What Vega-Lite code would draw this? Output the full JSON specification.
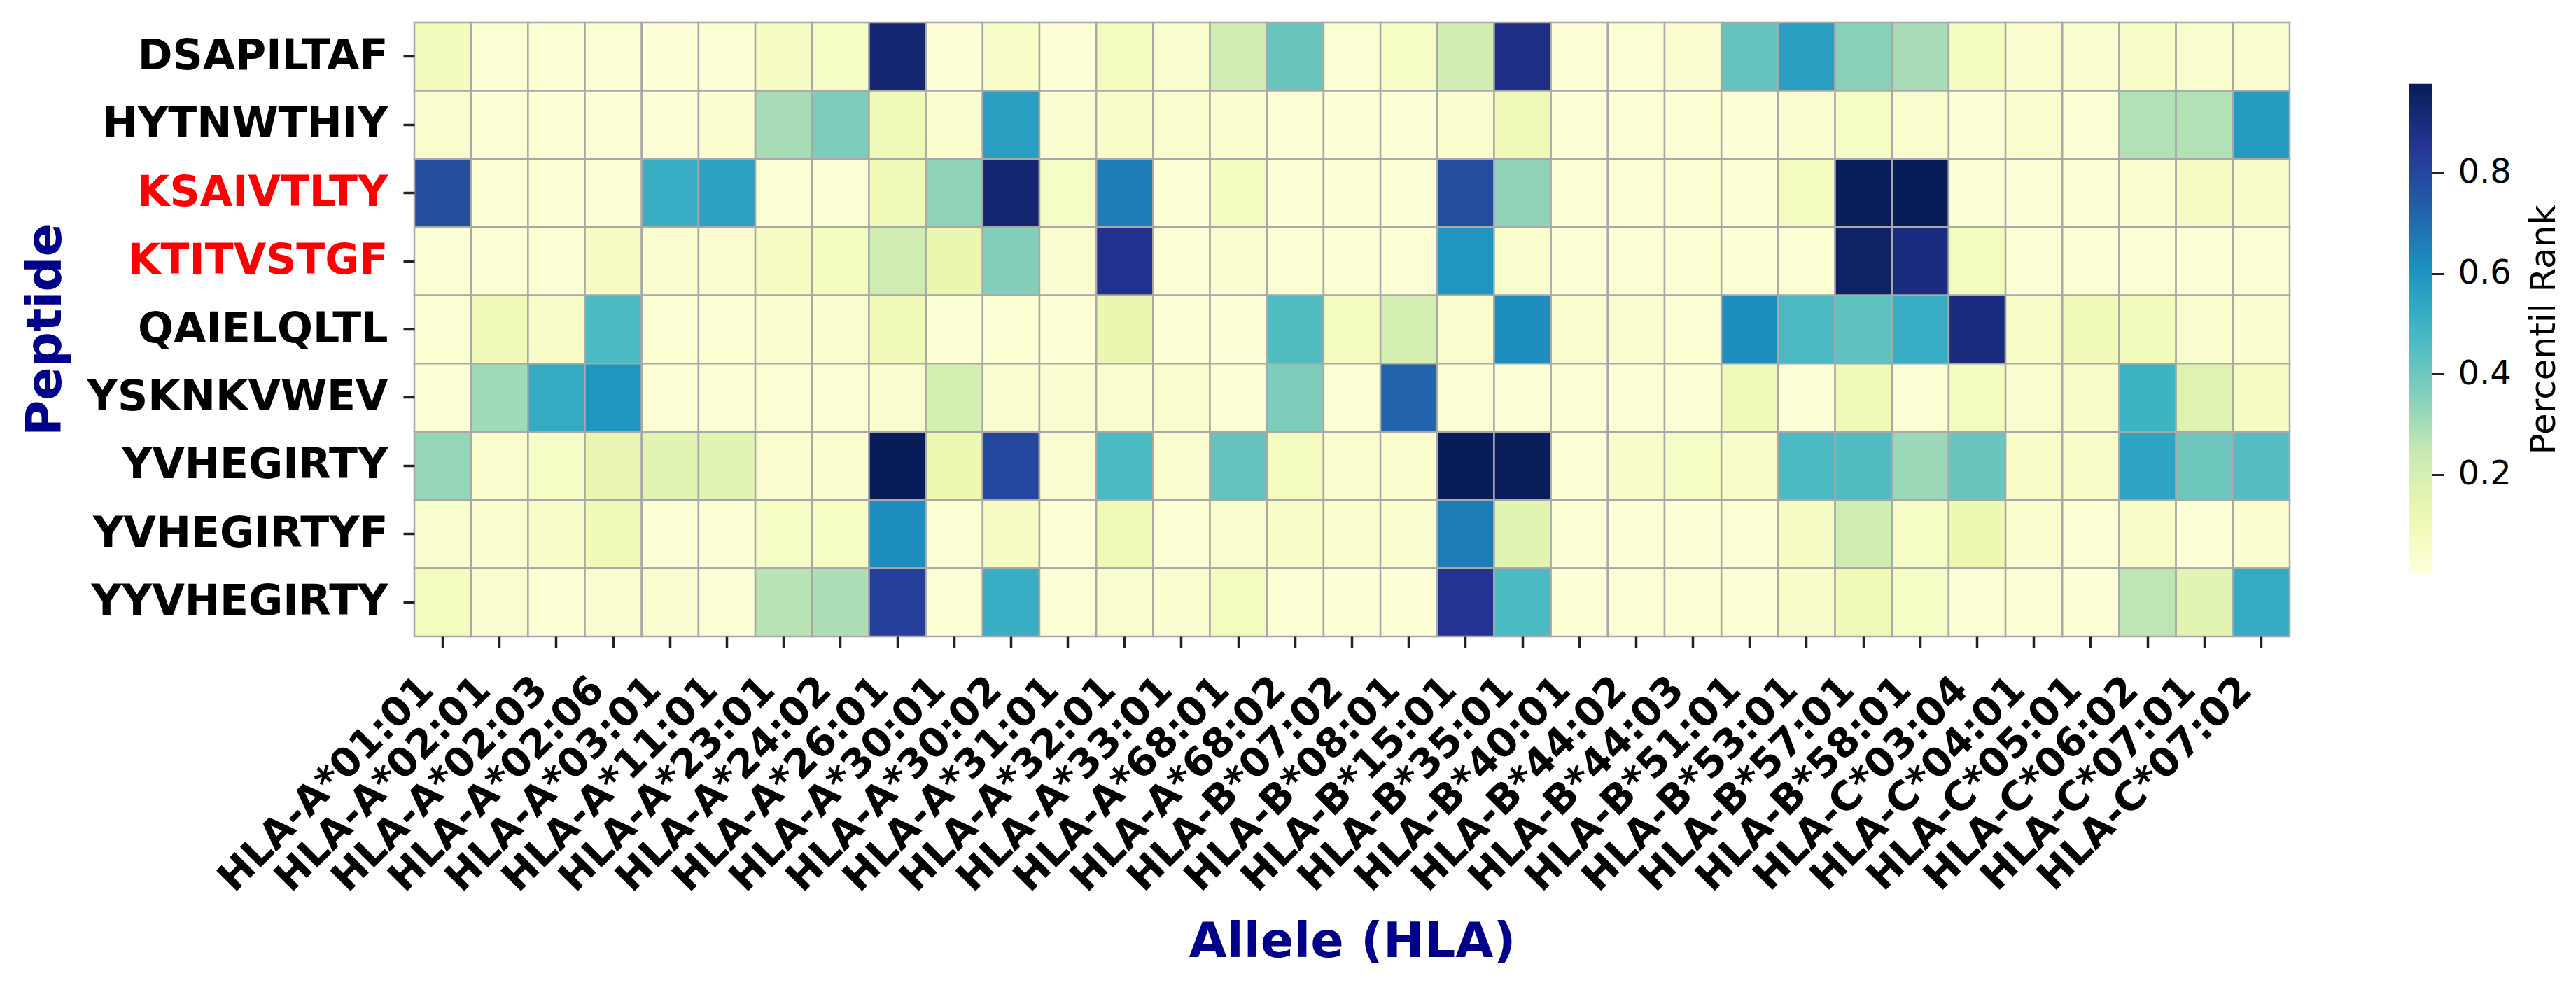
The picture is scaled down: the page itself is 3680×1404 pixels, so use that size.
{
  "$schema": "https://vega.github.io/schema/vega-lite/v6.json",
  "background": "white",
  "padding": {"left": 30, "top": 30, "right": 60, "bottom": 60},
  "config": {"view": {"stroke": null}, "font": "DejaVu Sans"},
  "spacing": 169,
  "hconcat": [
    {
      "width": 2679,
      "height": 877,
      "data": {"values": [
{"peptide":"DSAPILTAF","allele":"HLA-A*01:01","rank":0.09},{"peptide":"DSAPILTAF","allele":"HLA-A*02:01","rank":0.02},{"peptide":"DSAPILTAF","allele":"HLA-A*02:03","rank":0.02},{"peptide":"DSAPILTAF","allele":"HLA-A*02:06","rank":0.02},{"peptide":"DSAPILTAF","allele":"HLA-A*03:01","rank":0.01},{"peptide":"DSAPILTAF","allele":"HLA-A*11:01","rank":0.02},{"peptide":"DSAPILTAF","allele":"HLA-A*23:01","rank":0.07},{"peptide":"DSAPILTAF","allele":"HLA-A*24:02","rank":0.06},{"peptide":"DSAPILTAF","allele":"HLA-A*26:01","rank":0.93},{"peptide":"DSAPILTAF","allele":"HLA-A*30:01","rank":0.01},{"peptide":"DSAPILTAF","allele":"HLA-A*30:02","rank":0.05},{"peptide":"DSAPILTAF","allele":"HLA-A*31:01","rank":0.01},{"peptide":"DSAPILTAF","allele":"HLA-A*32:01","rank":0.08},{"peptide":"DSAPILTAF","allele":"HLA-A*33:01","rank":0.04},{"peptide":"DSAPILTAF","allele":"HLA-A*68:01","rank":0.22},{"peptide":"DSAPILTAF","allele":"HLA-A*68:02","rank":0.41},{"peptide":"DSAPILTAF","allele":"HLA-B*07:02","rank":0.02},{"peptide":"DSAPILTAF","allele":"HLA-B*08:01","rank":0.06},{"peptide":"DSAPILTAF","allele":"HLA-B*15:01","rank":0.21},{"peptide":"DSAPILTAF","allele":"HLA-B*35:01","rank":0.88},{"peptide":"DSAPILTAF","allele":"HLA-B*40:01","rank":0.01},{"peptide":"DSAPILTAF","allele":"HLA-B*44:02","rank":0.02},{"peptide":"DSAPILTAF","allele":"HLA-B*44:03","rank":0.03},{"peptide":"DSAPILTAF","allele":"HLA-B*51:01","rank":0.42},{"peptide":"DSAPILTAF","allele":"HLA-B*53:01","rank":0.57},{"peptide":"DSAPILTAF","allele":"HLA-B*57:01","rank":0.35},{"peptide":"DSAPILTAF","allele":"HLA-B*58:01","rank":0.30},{"peptide":"DSAPILTAF","allele":"HLA-C*03:04","rank":0.08},{"peptide":"DSAPILTAF","allele":"HLA-C*04:01","rank":0.03},{"peptide":"DSAPILTAF","allele":"HLA-C*05:01","rank":0.04},{"peptide":"DSAPILTAF","allele":"HLA-C*06:02","rank":0.05},{"peptide":"DSAPILTAF","allele":"HLA-C*07:01","rank":0.04},{"peptide":"DSAPILTAF","allele":"HLA-C*07:02","rank":0.04},
{"peptide":"HYTNWTHIY","allele":"HLA-A*01:01","rank":0.04},{"peptide":"HYTNWTHIY","allele":"HLA-A*02:01","rank":0.02},{"peptide":"HYTNWTHIY","allele":"HLA-A*02:03","rank":0.02},{"peptide":"HYTNWTHIY","allele":"HLA-A*02:06","rank":0.02},{"peptide":"HYTNWTHIY","allele":"HLA-A*03:01","rank":0.02},{"peptide":"HYTNWTHIY","allele":"HLA-A*11:01","rank":0.03},{"peptide":"HYTNWTHIY","allele":"HLA-A*23:01","rank":0.30},{"peptide":"HYTNWTHIY","allele":"HLA-A*24:02","rank":0.37},{"peptide":"HYTNWTHIY","allele":"HLA-A*26:01","rank":0.10},{"peptide":"HYTNWTHIY","allele":"HLA-A*30:01","rank":0.03},{"peptide":"HYTNWTHIY","allele":"HLA-A*30:02","rank":0.57},{"peptide":"HYTNWTHIY","allele":"HLA-A*31:01","rank":0.03},{"peptide":"HYTNWTHIY","allele":"HLA-A*32:01","rank":0.05},{"peptide":"HYTNWTHIY","allele":"HLA-A*33:01","rank":0.04},{"peptide":"HYTNWTHIY","allele":"HLA-A*68:01","rank":0.03},{"peptide":"HYTNWTHIY","allele":"HLA-A*68:02","rank":0.01},{"peptide":"HYTNWTHIY","allele":"HLA-B*07:02","rank":0.01},{"peptide":"HYTNWTHIY","allele":"HLA-B*08:01","rank":0.01},{"peptide":"HYTNWTHIY","allele":"HLA-B*15:01","rank":0.03},{"peptide":"HYTNWTHIY","allele":"HLA-B*35:01","rank":0.10},{"peptide":"HYTNWTHIY","allele":"HLA-B*40:01","rank":0.01},{"peptide":"HYTNWTHIY","allele":"HLA-B*44:02","rank":0.02},{"peptide":"HYTNWTHIY","allele":"HLA-B*44:03","rank":0.02},{"peptide":"HYTNWTHIY","allele":"HLA-B*51:01","rank":0.01},{"peptide":"HYTNWTHIY","allele":"HLA-B*53:01","rank":0.03},{"peptide":"HYTNWTHIY","allele":"HLA-B*57:01","rank":0.06},{"peptide":"HYTNWTHIY","allele":"HLA-B*58:01","rank":0.04},{"peptide":"HYTNWTHIY","allele":"HLA-C*03:04","rank":0.01},{"peptide":"HYTNWTHIY","allele":"HLA-C*04:01","rank":0.04},{"peptide":"HYTNWTHIY","allele":"HLA-C*05:01","rank":0.01},{"peptide":"HYTNWTHIY","allele":"HLA-C*06:02","rank":0.28},{"peptide":"HYTNWTHIY","allele":"HLA-C*07:01","rank":0.28},{"peptide":"HYTNWTHIY","allele":"HLA-C*07:02","rank":0.58},
{"peptide":"KSAIVTLTY","allele":"HLA-A*01:01","rank":0.78},{"peptide":"KSAIVTLTY","allele":"HLA-A*02:01","rank":0.02},{"peptide":"KSAIVTLTY","allele":"HLA-A*02:03","rank":0.02},{"peptide":"KSAIVTLTY","allele":"HLA-A*02:06","rank":0.02},{"peptide":"KSAIVTLTY","allele":"HLA-A*03:01","rank":0.52},{"peptide":"KSAIVTLTY","allele":"HLA-A*11:01","rank":0.56},{"peptide":"KSAIVTLTY","allele":"HLA-A*23:01","rank":0.02},{"peptide":"KSAIVTLTY","allele":"HLA-A*24:02","rank":0.02},{"peptide":"KSAIVTLTY","allele":"HLA-A*26:01","rank":0.10},{"peptide":"KSAIVTLTY","allele":"HLA-A*30:01","rank":0.34},{"peptide":"KSAIVTLTY","allele":"HLA-A*30:02","rank":0.93},{"peptide":"KSAIVTLTY","allele":"HLA-A*31:01","rank":0.06},{"peptide":"KSAIVTLTY","allele":"HLA-A*32:01","rank":0.66},{"peptide":"KSAIVTLTY","allele":"HLA-A*33:01","rank":0.01},{"peptide":"KSAIVTLTY","allele":"HLA-A*68:01","rank":0.08},{"peptide":"KSAIVTLTY","allele":"HLA-A*68:02","rank":0.01},{"peptide":"KSAIVTLTY","allele":"HLA-B*07:02","rank":0.01},{"peptide":"KSAIVTLTY","allele":"HLA-B*08:01","rank":0.01},{"peptide":"KSAIVTLTY","allele":"HLA-B*15:01","rank":0.78},{"peptide":"KSAIVTLTY","allele":"HLA-B*35:01","rank":0.34},{"peptide":"KSAIVTLTY","allele":"HLA-B*40:01","rank":0.01},{"peptide":"KSAIVTLTY","allele":"HLA-B*44:02","rank":0.02},{"peptide":"KSAIVTLTY","allele":"HLA-B*44:03","rank":0.02},{"peptide":"KSAIVTLTY","allele":"HLA-B*51:01","rank":0.01},{"peptide":"KSAIVTLTY","allele":"HLA-B*53:01","rank":0.08},{"peptide":"KSAIVTLTY","allele":"HLA-B*57:01","rank":0.975},{"peptide":"KSAIVTLTY","allele":"HLA-B*58:01","rank":0.977},{"peptide":"KSAIVTLTY","allele":"HLA-C*03:04","rank":0.02},{"peptide":"KSAIVTLTY","allele":"HLA-C*04:01","rank":0.01},{"peptide":"KSAIVTLTY","allele":"HLA-C*05:01","rank":0.02},{"peptide":"KSAIVTLTY","allele":"HLA-C*06:02","rank":0.04},{"peptide":"KSAIVTLTY","allele":"HLA-C*07:01","rank":0.07},{"peptide":"KSAIVTLTY","allele":"HLA-C*07:02","rank":0.05},
{"peptide":"KTITVSTGF","allele":"HLA-A*01:01","rank":0.02},{"peptide":"KTITVSTGF","allele":"HLA-A*02:01","rank":0.02},{"peptide":"KTITVSTGF","allele":"HLA-A*02:03","rank":0.02},{"peptide":"KTITVSTGF","allele":"HLA-A*02:06","rank":0.07},{"peptide":"KTITVSTGF","allele":"HLA-A*03:01","rank":0.03},{"peptide":"KTITVSTGF","allele":"HLA-A*11:01","rank":0.03},{"peptide":"KTITVSTGF","allele":"HLA-A*23:01","rank":0.07},{"peptide":"KTITVSTGF","allele":"HLA-A*24:02","rank":0.08},{"peptide":"KTITVSTGF","allele":"HLA-A*26:01","rank":0.22},{"peptide":"KTITVSTGF","allele":"HLA-A*30:01","rank":0.13},{"peptide":"KTITVSTGF","allele":"HLA-A*30:02","rank":0.36},{"peptide":"KTITVSTGF","allele":"HLA-A*31:01","rank":0.03},{"peptide":"KTITVSTGF","allele":"HLA-A*32:01","rank":0.87},{"peptide":"KTITVSTGF","allele":"HLA-A*33:01","rank":0.01},{"peptide":"KTITVSTGF","allele":"HLA-A*68:01","rank":0.03},{"peptide":"KTITVSTGF","allele":"HLA-A*68:02","rank":0.02},{"peptide":"KTITVSTGF","allele":"HLA-B*07:02","rank":0.01},{"peptide":"KTITVSTGF","allele":"HLA-B*08:01","rank":0.01},{"peptide":"KTITVSTGF","allele":"HLA-B*15:01","rank":0.60},{"peptide":"KTITVSTGF","allele":"HLA-B*35:01","rank":0.04},{"peptide":"KTITVSTGF","allele":"HLA-B*40:01","rank":0.01},{"peptide":"KTITVSTGF","allele":"HLA-B*44:02","rank":0.02},{"peptide":"KTITVSTGF","allele":"HLA-B*44:03","rank":0.02},{"peptide":"KTITVSTGF","allele":"HLA-B*51:01","rank":0.01},{"peptide":"KTITVSTGF","allele":"HLA-B*53:01","rank":0.02},{"peptide":"KTITVSTGF","allele":"HLA-B*57:01","rank":0.95},{"peptide":"KTITVSTGF","allele":"HLA-B*58:01","rank":0.90},{"peptide":"KTITVSTGF","allele":"HLA-C*03:04","rank":0.08},{"peptide":"KTITVSTGF","allele":"HLA-C*04:01","rank":0.01},{"peptide":"KTITVSTGF","allele":"HLA-C*05:01","rank":0.02},{"peptide":"KTITVSTGF","allele":"HLA-C*06:02","rank":0.02},{"peptide":"KTITVSTGF","allele":"HLA-C*07:01","rank":0.01},{"peptide":"KTITVSTGF","allele":"HLA-C*07:02","rank":0.02},
{"peptide":"QAIELQLTL","allele":"HLA-A*01:01","rank":0.02},{"peptide":"QAIELQLTL","allele":"HLA-A*02:01","rank":0.10},{"peptide":"QAIELQLTL","allele":"HLA-A*02:03","rank":0.05},{"peptide":"QAIELQLTL","allele":"HLA-A*02:06","rank":0.47},{"peptide":"QAIELQLTL","allele":"HLA-A*03:01","rank":0.02},{"peptide":"QAIELQLTL","allele":"HLA-A*11:01","rank":0.02},{"peptide":"QAIELQLTL","allele":"HLA-A*23:01","rank":0.03},{"peptide":"QAIELQLTL","allele":"HLA-A*24:02","rank":0.03},{"peptide":"QAIELQLTL","allele":"HLA-A*26:01","rank":0.10},{"peptide":"QAIELQLTL","allele":"HLA-A*30:01","rank":0.02},{"peptide":"QAIELQLTL","allele":"HLA-A*30:02","rank":0.02},{"peptide":"QAIELQLTL","allele":"HLA-A*31:01","rank":0.01},{"peptide":"QAIELQLTL","allele":"HLA-A*32:01","rank":0.13},{"peptide":"QAIELQLTL","allele":"HLA-A*33:01","rank":0.01},{"peptide":"QAIELQLTL","allele":"HLA-A*68:01","rank":0.01},{"peptide":"QAIELQLTL","allele":"HLA-A*68:02","rank":0.46},{"peptide":"QAIELQLTL","allele":"HLA-B*07:02","rank":0.08},{"peptide":"QAIELQLTL","allele":"HLA-B*08:01","rank":0.20},{"peptide":"QAIELQLTL","allele":"HLA-B*15:01","rank":0.04},{"peptide":"QAIELQLTL","allele":"HLA-B*35:01","rank":0.62},{"peptide":"QAIELQLTL","allele":"HLA-B*40:01","rank":0.04},{"peptide":"QAIELQLTL","allele":"HLA-B*44:02","rank":0.03},{"peptide":"QAIELQLTL","allele":"HLA-B*44:03","rank":0.02},{"peptide":"QAIELQLTL","allele":"HLA-B*51:01","rank":0.62},{"peptide":"QAIELQLTL","allele":"HLA-B*53:01","rank":0.47},{"peptide":"QAIELQLTL","allele":"HLA-B*57:01","rank":0.43},{"peptide":"QAIELQLTL","allele":"HLA-B*58:01","rank":0.52},{"peptide":"QAIELQLTL","allele":"HLA-C*03:04","rank":0.90},{"peptide":"QAIELQLTL","allele":"HLA-C*04:01","rank":0.05},{"peptide":"QAIELQLTL","allele":"HLA-C*05:01","rank":0.10},{"peptide":"QAIELQLTL","allele":"HLA-C*06:02","rank":0.09},{"peptide":"QAIELQLTL","allele":"HLA-C*07:01","rank":0.04},{"peptide":"QAIELQLTL","allele":"HLA-C*07:02","rank":0.03},
{"peptide":"YSKNKVWEV","allele":"HLA-A*01:01","rank":0.02},{"peptide":"YSKNKVWEV","allele":"HLA-A*02:01","rank":0.31},{"peptide":"YSKNKVWEV","allele":"HLA-A*02:03","rank":0.53},{"peptide":"YSKNKVWEV","allele":"HLA-A*02:06","rank":0.60},{"peptide":"YSKNKVWEV","allele":"HLA-A*03:01","rank":0.02},{"peptide":"YSKNKVWEV","allele":"HLA-A*11:01","rank":0.02},{"peptide":"YSKNKVWEV","allele":"HLA-A*23:01","rank":0.02},{"peptide":"YSKNKVWEV","allele":"HLA-A*24:02","rank":0.02},{"peptide":"YSKNKVWEV","allele":"HLA-A*26:01","rank":0.03},{"peptide":"YSKNKVWEV","allele":"HLA-A*30:01","rank":0.20},{"peptide":"YSKNKVWEV","allele":"HLA-A*30:02","rank":0.03},{"peptide":"YSKNKVWEV","allele":"HLA-A*31:01","rank":0.03},{"peptide":"YSKNKVWEV","allele":"HLA-A*32:01","rank":0.04},{"peptide":"YSKNKVWEV","allele":"HLA-A*33:01","rank":0.04},{"peptide":"YSKNKVWEV","allele":"HLA-A*68:01","rank":0.02},{"peptide":"YSKNKVWEV","allele":"HLA-A*68:02","rank":0.37},{"peptide":"YSKNKVWEV","allele":"HLA-B*07:02","rank":0.01},{"peptide":"YSKNKVWEV","allele":"HLA-B*08:01","rank":0.72},{"peptide":"YSKNKVWEV","allele":"HLA-B*15:01","rank":0.02},{"peptide":"YSKNKVWEV","allele":"HLA-B*35:01","rank":0.01},{"peptide":"YSKNKVWEV","allele":"HLA-B*40:01","rank":0.01},{"peptide":"YSKNKVWEV","allele":"HLA-B*44:02","rank":0.01},{"peptide":"YSKNKVWEV","allele":"HLA-B*44:03","rank":0.01},{"peptide":"YSKNKVWEV","allele":"HLA-B*51:01","rank":0.10},{"peptide":"YSKNKVWEV","allele":"HLA-B*53:01","rank":0.01},{"peptide":"YSKNKVWEV","allele":"HLA-B*57:01","rank":0.10},{"peptide":"YSKNKVWEV","allele":"HLA-B*58:01","rank":0.02},{"peptide":"YSKNKVWEV","allele":"HLA-C*03:04","rank":0.08},{"peptide":"YSKNKVWEV","allele":"HLA-C*04:01","rank":0.03},{"peptide":"YSKNKVWEV","allele":"HLA-C*05:01","rank":0.05},{"peptide":"YSKNKVWEV","allele":"HLA-C*06:02","rank":0.50},{"peptide":"YSKNKVWEV","allele":"HLA-C*07:01","rank":0.17},{"peptide":"YSKNKVWEV","allele":"HLA-C*07:02","rank":0.07},
{"peptide":"YVHEGIRTY","allele":"HLA-A*01:01","rank":0.33},{"peptide":"YVHEGIRTY","allele":"HLA-A*02:01","rank":0.04},{"peptide":"YVHEGIRTY","allele":"HLA-A*02:03","rank":0.06},{"peptide":"YVHEGIRTY","allele":"HLA-A*02:06","rank":0.14},{"peptide":"YVHEGIRTY","allele":"HLA-A*03:01","rank":0.16},{"peptide":"YVHEGIRTY","allele":"HLA-A*11:01","rank":0.16},{"peptide":"YVHEGIRTY","allele":"HLA-A*23:01","rank":0.03},{"peptide":"YVHEGIRTY","allele":"HLA-A*24:02","rank":0.03},{"peptide":"YVHEGIRTY","allele":"HLA-A*26:01","rank":0.977},{"peptide":"YVHEGIRTY","allele":"HLA-A*30:01","rank":0.12},{"peptide":"YVHEGIRTY","allele":"HLA-A*30:02","rank":0.80},{"peptide":"YVHEGIRTY","allele":"HLA-A*31:01","rank":0.03},{"peptide":"YVHEGIRTY","allele":"HLA-A*32:01","rank":0.47},{"peptide":"YVHEGIRTY","allele":"HLA-A*33:01","rank":0.03},{"peptide":"YVHEGIRTY","allele":"HLA-A*68:01","rank":0.42},{"peptide":"YVHEGIRTY","allele":"HLA-A*68:02","rank":0.08},{"peptide":"YVHEGIRTY","allele":"HLA-B*07:02","rank":0.03},{"peptide":"YVHEGIRTY","allele":"HLA-B*08:01","rank":0.04},{"peptide":"YVHEGIRTY","allele":"HLA-B*15:01","rank":0.977},{"peptide":"YVHEGIRTY","allele":"HLA-B*35:01","rank":0.97},{"peptide":"YVHEGIRTY","allele":"HLA-B*40:01","rank":0.01},{"peptide":"YVHEGIRTY","allele":"HLA-B*44:02","rank":0.05},{"peptide":"YVHEGIRTY","allele":"HLA-B*44:03","rank":0.06},{"peptide":"YVHEGIRTY","allele":"HLA-B*51:01","rank":0.05},{"peptide":"YVHEGIRTY","allele":"HLA-B*53:01","rank":0.47},{"peptide":"YVHEGIRTY","allele":"HLA-B*57:01","rank":0.46},{"peptide":"YVHEGIRTY","allele":"HLA-B*58:01","rank":0.32},{"peptide":"YVHEGIRTY","allele":"HLA-C*03:04","rank":0.41},{"peptide":"YVHEGIRTY","allele":"HLA-C*04:01","rank":0.05},{"peptide":"YVHEGIRTY","allele":"HLA-C*05:01","rank":0.05},{"peptide":"YVHEGIRTY","allele":"HLA-C*06:02","rank":0.55},{"peptide":"YVHEGIRTY","allele":"HLA-C*07:01","rank":0.40},{"peptide":"YVHEGIRTY","allele":"HLA-C*07:02","rank":0.45},
{"peptide":"YVHEGIRTYF","allele":"HLA-A*01:01","rank":0.04},{"peptide":"YVHEGIRTYF","allele":"HLA-A*02:01","rank":0.03},{"peptide":"YVHEGIRTYF","allele":"HLA-A*02:03","rank":0.05},{"peptide":"YVHEGIRTYF","allele":"HLA-A*02:06","rank":0.10},{"peptide":"YVHEGIRTYF","allele":"HLA-A*03:01","rank":0.02},{"peptide":"YVHEGIRTYF","allele":"HLA-A*11:01","rank":0.02},{"peptide":"YVHEGIRTYF","allele":"HLA-A*23:01","rank":0.06},{"peptide":"YVHEGIRTYF","allele":"HLA-A*24:02","rank":0.06},{"peptide":"YVHEGIRTYF","allele":"HLA-A*26:01","rank":0.62},{"peptide":"YVHEGIRTYF","allele":"HLA-A*30:01","rank":0.02},{"peptide":"YVHEGIRTYF","allele":"HLA-A*30:02","rank":0.07},{"peptide":"YVHEGIRTYF","allele":"HLA-A*31:01","rank":0.01},{"peptide":"YVHEGIRTYF","allele":"HLA-A*32:01","rank":0.11},{"peptide":"YVHEGIRTYF","allele":"HLA-A*33:01","rank":0.02},{"peptide":"YVHEGIRTYF","allele":"HLA-A*68:01","rank":0.04},{"peptide":"YVHEGIRTYF","allele":"HLA-A*68:02","rank":0.05},{"peptide":"YVHEGIRTYF","allele":"HLA-B*07:02","rank":0.03},{"peptide":"YVHEGIRTYF","allele":"HLA-B*08:01","rank":0.03},{"peptide":"YVHEGIRTYF","allele":"HLA-B*15:01","rank":0.66},{"peptide":"YVHEGIRTYF","allele":"HLA-B*35:01","rank":0.16},{"peptide":"YVHEGIRTYF","allele":"HLA-B*40:01","rank":0.01},{"peptide":"YVHEGIRTYF","allele":"HLA-B*44:02","rank":0.01},{"peptide":"YVHEGIRTYF","allele":"HLA-B*44:03","rank":0.01},{"peptide":"YVHEGIRTYF","allele":"HLA-B*51:01","rank":0.02},{"peptide":"YVHEGIRTYF","allele":"HLA-B*53:01","rank":0.07},{"peptide":"YVHEGIRTYF","allele":"HLA-B*57:01","rank":0.22},{"peptide":"YVHEGIRTYF","allele":"HLA-B*58:01","rank":0.06},{"peptide":"YVHEGIRTYF","allele":"HLA-C*03:04","rank":0.12},{"peptide":"YVHEGIRTYF","allele":"HLA-C*04:01","rank":0.03},{"peptide":"YVHEGIRTYF","allele":"HLA-C*05:01","rank":0.02},{"peptide":"YVHEGIRTYF","allele":"HLA-C*06:02","rank":0.05},{"peptide":"YVHEGIRTYF","allele":"HLA-C*07:01","rank":0.01},{"peptide":"YVHEGIRTYF","allele":"HLA-C*07:02","rank":0.03},
{"peptide":"YYVHEGIRTY","allele":"HLA-A*01:01","rank":0.08},{"peptide":"YYVHEGIRTY","allele":"HLA-A*02:01","rank":0.03},{"peptide":"YYVHEGIRTY","allele":"HLA-A*02:03","rank":0.02},{"peptide":"YYVHEGIRTY","allele":"HLA-A*02:06","rank":0.03},{"peptide":"YYVHEGIRTY","allele":"HLA-A*03:01","rank":0.03},{"peptide":"YYVHEGIRTY","allele":"HLA-A*11:01","rank":0.02},{"peptide":"YYVHEGIRTY","allele":"HLA-A*23:01","rank":0.27},{"peptide":"YYVHEGIRTY","allele":"HLA-A*24:02","rank":0.29},{"peptide":"YYVHEGIRTY","allele":"HLA-A*26:01","rank":0.82},{"peptide":"YYVHEGIRTY","allele":"HLA-A*30:01","rank":0.02},{"peptide":"YYVHEGIRTY","allele":"HLA-A*30:02","rank":0.52},{"peptide":"YYVHEGIRTY","allele":"HLA-A*31:01","rank":0.02},{"peptide":"YYVHEGIRTY","allele":"HLA-A*32:01","rank":0.04},{"peptide":"YYVHEGIRTY","allele":"HLA-A*33:01","rank":0.03},{"peptide":"YYVHEGIRTY","allele":"HLA-A*68:01","rank":0.08},{"peptide":"YYVHEGIRTY","allele":"HLA-A*68:02","rank":0.02},{"peptide":"YYVHEGIRTY","allele":"HLA-B*07:02","rank":0.01},{"peptide":"YYVHEGIRTY","allele":"HLA-B*08:01","rank":0.01},{"peptide":"YYVHEGIRTY","allele":"HLA-B*15:01","rank":0.86},{"peptide":"YYVHEGIRTY","allele":"HLA-B*35:01","rank":0.47},{"peptide":"YYVHEGIRTY","allele":"HLA-B*40:01","rank":0.01},{"peptide":"YYVHEGIRTY","allele":"HLA-B*44:02","rank":0.02},{"peptide":"YYVHEGIRTY","allele":"HLA-B*44:03","rank":0.02},{"peptide":"YYVHEGIRTY","allele":"HLA-B*51:01","rank":0.02},{"peptide":"YYVHEGIRTY","allele":"HLA-B*53:01","rank":0.05},{"peptide":"YYVHEGIRTY","allele":"HLA-B*57:01","rank":0.10},{"peptide":"YYVHEGIRTY","allele":"HLA-B*58:01","rank":0.06},{"peptide":"YYVHEGIRTY","allele":"HLA-C*03:04","rank":0.02},{"peptide":"YYVHEGIRTY","allele":"HLA-C*04:01","rank":0.02},{"peptide":"YYVHEGIRTY","allele":"HLA-C*05:01","rank":0.01},{"peptide":"YYVHEGIRTY","allele":"HLA-C*06:02","rank":0.26},{"peptide":"YYVHEGIRTY","allele":"HLA-C*07:01","rank":0.16},{"peptide":"YYVHEGIRTY","allele":"HLA-C*07:02","rank":0.53}
      ]},
      "mark": {"type": "rect", "stroke": "#a8a8a8", "strokeWidth": 2.5},
      "encoding": {
        "x": {
          "field": "allele", "type": "nominal", "sort": null, "title": "Allele (HLA)",
          "scale": {"paddingInner": 0, "paddingOuter": 0},
          "axis": {
            "labelAngle": -45, "labelAlign": "right", "labelBaseline": "alphabetic",
            "labelFont": "DejaVu Sans", "labelFontWeight": "bold", "labelFontSize": 57, "labelColor": "#000000",
            "labelOffset": -10, "labelPadding": 63, "labelOverlap": false, "labelLimit": 1000,
            "tickSize": 16, "tickWidth": 3.5, "tickColor": "#222222", "domain": false, "grid": false,
            "titleFont": "DejaVu Sans", "titleFontSize": 70, "titleFontWeight": "bold", "titleColor": "#00008B",
            "titleX": 1339.5, "titleY": 457, "titleAlign": "center", "titleBaseline": "alphabetic"
          }
        },
        "y": {
          "field": "peptide", "type": "nominal", "sort": null, "title": "Peptide",
          "scale": {"paddingInner": 0, "paddingOuter": 0},
          "axis": {
            "labelFont": "DejaVu Sans", "labelFontWeight": "bold", "labelFontSize": 60,
            "labelColor": {"condition": {"test": "datum.value === 'KSAIVTLTY' || datum.value === 'KTITVSTGF'", "value": "#ff0000"}, "value": "#000000"},
            "labelPadding": 22, "labelLimit": 1000,
            "tickSize": 16, "tickWidth": 3.5, "tickColor": "#222222", "domain": false, "grid": false,
            "titleFont": "DejaVu Sans", "titleFontSize": 70, "titleFontWeight": "bold", "titleColor": "#00008B",
            "titleAngle": 270, "titleX": -506, "titleY": 438.5, "titleAlign": "center", "titleBaseline": "alphabetic"
          }
        },
        "color": {
          "field": "rank", "type": "quantitative", "legend": null,
          "scale": {
            "domain": [0.002, 0.12375, 0.2455, 0.36725, 0.4895, 0.61175, 0.7335, 0.85525, 0.977],
            "range": ["#ffffd9", "#edf8b1", "#c7e9b4", "#7fcdbb", "#41b6c4", "#1d91c0", "#225ea8", "#253494", "#081d58"],
            "interpolate": "rgb"
          }
        }
      }
    },
    {
      "width": 32,
      "height": 877,
      "data": {"values": [{"bar": "Percentil Rank", "low": 0.002, "high": 0.977}]},
      "mark": {
        "type": "rect",
        "color": {
          "gradient": "linear", "x1": 0, "y1": 1, "x2": 0, "y2": 0,
          "stops": [
            {"offset": 0, "color": "#ffffd9"}, {"offset": 0.125, "color": "#edf8b1"}, {"offset": 0.25, "color": "#c7e9b4"},
            {"offset": 0.375, "color": "#7fcdbb"}, {"offset": 0.5, "color": "#41b6c4"}, {"offset": 0.625, "color": "#1d91c0"},
            {"offset": 0.75, "color": "#225ea8"}, {"offset": 0.875, "color": "#253494"}, {"offset": 1, "color": "#081d58"}
          ]
        }
      },
      "encoding": {
        "x": {"field": "bar", "type": "nominal", "axis": null, "scale": {"paddingInner": 0, "paddingOuter": 0}},
        "y": {
          "field": "low", "type": "quantitative",
          "scale": {"domain": [-0.1216, 1.0993], "nice": false, "zero": false},
          "axis": {
            "orient": "right", "values": [0.2, 0.4, 0.6, 0.8], "format": ".1f", "title": "Percentil Rank",
            "labelFont": "DejaVu Sans", "labelFontSize": 48, "labelColor": "#000000", "labelPadding": 20,
            "tickSize": 17, "tickWidth": 3, "tickColor": "#222222", "domain": false, "grid": false,
            "titleFont": "DejaVu Sans", "titleFontSize": 50, "titleFontWeight": "normal", "titleColor": "#000000",
            "titleAngle": 270, "titleX": 175, "titleY": 438.5, "titleAlign": "center", "titleBaseline": "alphabetic"
          }
        },
        "y2": {"field": "high"}
      }
    }
  ]
}
